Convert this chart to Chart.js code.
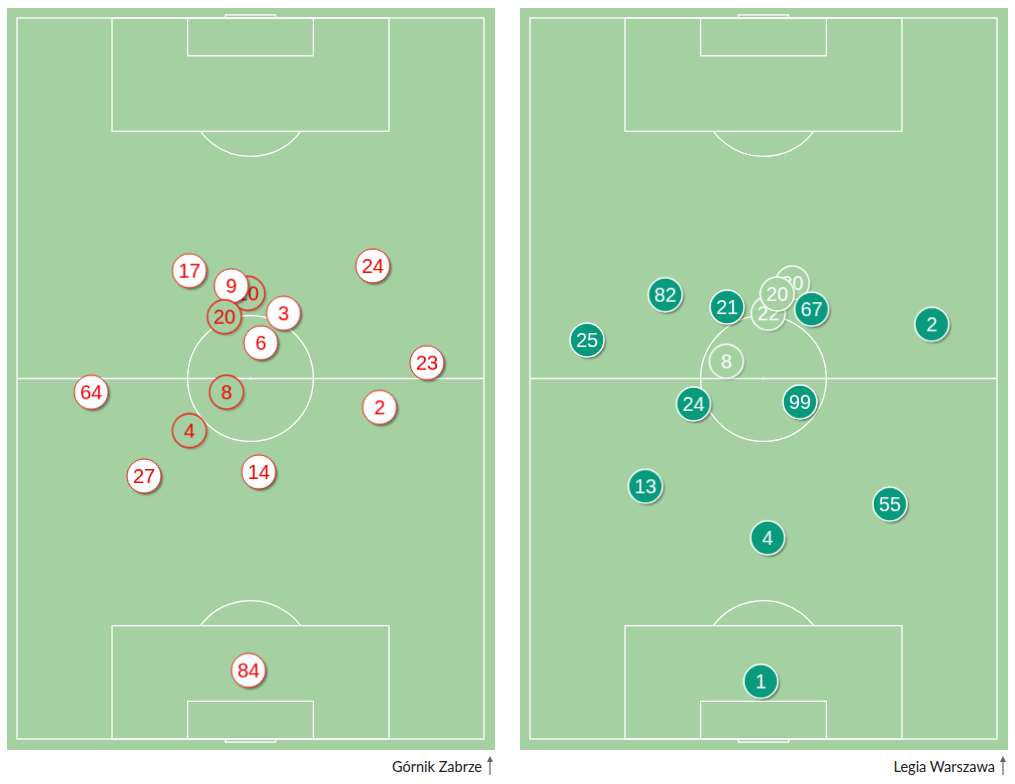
<!DOCTYPE html>
<html>
<head>
<meta charset="utf-8">
<script src="https://cdn.jsdelivr.net/npm/chart.js@4.4.1/dist/chart.umd.min.js"></script>
<style>
  body { margin: 0; background: #fff; width: 1015px; height: 784px; position: relative; overflow: hidden; }
  .pitch { position: absolute; top: 8px; width: 488px; height: 742px; }
  .caption { position: absolute; top: 758px; font: 14.5px Lato, sans-serif; color: #222; white-space: nowrap; }
  .caption svg { position: absolute; top: -3px; }
</style>
</head>
<body>
<div class="pitch" style="left:7px"><canvas id="pitchGornik"></canvas></div>
<div class="pitch" style="left:520px"><canvas id="pitchLegia"></canvas></div>
<div class="caption" style="right:533px">Górnik Zabrze<svg width="12" height="22" style="right:-14px"><line x1="6" y1="4" x2="6" y2="20" stroke="#666" stroke-width="1.2"/><path d="M3 7 L6 1 L9 7 Z" fill="#666"/></svg></div>
<div class="caption" style="right:20px">Legia Warszawa<svg width="12" height="22" style="right:-14px"><line x1="6" y1="4" x2="6" y2="20" stroke="#666" stroke-width="1.2"/><path d="M3 7 L6 1 L9 7 Z" fill="#666"/></svg></div>
<script>
// pozycje w metrach: x = szerokosc boiska (0-68), y = od wlasnej linii bramkowej (0-105)
const gornikNumbers = ['17', '10', '9', '20', '3', '6', '24', '23', '64', '8', '2', '4', '27', '14', '84'];
const gornikX = [25.1, 33.6, 31.2, 30.2, 38.8, 35.5, 51.8, 59.7, 10.8, 30.5, 52.8, 25.1, 18.5, 35.2, 33.7];
const gornikY = [68.2, 64.9, 66.0, 61.5, 62.0, 57.7, 68.9, 54.8, 50.5, 50.5, 48.3, 44.9, 38.3, 38.9, 10.0];
const gornikSub = [false, true, false, true, false, false, false, false, false, true, false, true, false, false, false];

const legiaNumbers = ['82', '21', '30', '22', '20', '67', '2', '25', '8', '24', '99', '13', '55', '4', '1'];
const legiaX = [19.7, 28.7, 38.2, 34.7, 36.0, 41.0, 58.5, 8.3, 28.6, 23.8, 39.3, 16.8, 52.4, 34.6, 33.6];
const legiaY = [64.7, 62.9, 66.4, 62.0, 64.8, 62.6, 60.4, 58.1, 55.0, 48.8, 49.1, 36.8, 34.2, 29.3, 8.4];
const legiaSub = [false, false, true, true, true, false, false, false, true, false, false, false, false, false, false];

const PITCH_W = 68;
const PITCH_L = 105;
const GRASS = '#a4d0a2';
const LINE = '#ffffff';

// rysuje znacznik zawodnika na osobnym canvasie (uzywany jako pointStyle)
function makeMarker(num, sub, team) {
    const c = document.createElement('canvas');
    c.width = 44;
    c.height = 44;
    const g = c.getContext('2d');
    const r = 17;
    const fill = sub ? GRASS : (team === 'gornik' ? '#ffffff' : '#079a7c');
    const edge = team === 'gornik' ? '#f01a14' : '#ffffff';
    const text = team === 'gornik' ? '#f00000' : '#ffffff';

    g.save();
    g.shadowColor = sub ? 'rgba(0,0,0,0.2)' : 'rgba(0,0,0,0.4)';
    g.shadowOffsetX = 2;
    g.shadowOffsetY = 2;
    g.shadowBlur = 2;
    g.beginPath();
    g.arc(22, 22, r, 0, Math.PI * 2);
    g.fillStyle = fill;
    g.fill();
    g.restore();
    g.beginPath();
    g.arc(22, 22, r, 0, Math.PI * 2);
    g.lineWidth = team === 'gornik' ? (sub ? 1.3 : 1) : 1.5;
    g.strokeStyle = edge;
    g.stroke();

    g.fillStyle = text;
    g.font = '20px "Liberation Sans", Arial, sans-serif';
    g.textAlign = 'center';
    g.textBaseline = 'middle';
    g.fillText(num, 22, 23);
    return c;
}

// linie boiska rysowane przez skale wykresu
const pitchPlugin = {
    id: 'pitch',
    beforeDraw(chart) {
        const ctx = chart.ctx;
        ctx.save();
        ctx.fillStyle = GRASS;
        ctx.fillRect(0, 0, chart.width, chart.height);
        ctx.restore();
    },
    beforeDatasetsDraw(chart) {
        const ctx = chart.ctx;
        const sx = chart.scales.x;
        const sy = chart.scales.y;
        const px = v => sx.getPixelForValue(v);
        const py = v => sy.getPixelForValue(v);
        const m = Math.abs(px(1) - px(0));
        const cx = PITCH_W / 2;

        const rect = (x0, y0, x1, y1) => {
            ctx.strokeRect(px(x0), py(y1), px(x1) - px(x0), py(y0) - py(y1));
        };

        ctx.save();
        ctx.strokeStyle = LINE;
        ctx.lineWidth = 1.3;

        rect(0, 0, PITCH_W, PITCH_L);
        // linia srodkowa + kolo
        ctx.beginPath();
        ctx.moveTo(px(0), py(PITCH_L / 2));
        ctx.lineTo(px(PITCH_W), py(PITCH_L / 2));
        ctx.stroke();
        ctx.beginPath();
        ctx.arc(px(cx), py(PITCH_L / 2), 9.15 * m, 0, Math.PI * 2);
        ctx.stroke();
        ctx.beginPath();
        ctx.fillStyle = LINE;
        ctx.arc(px(cx), py(PITCH_L / 2), 1.2, 0, Math.PI * 2);
        ctx.fill();

        // pola karne, bramkowe, bramki, luki
        const theta = Math.acos(5.5 / 9.15);
        [0, PITCH_L].forEach(end => {
            const dir = end === 0 ? 1 : -1;
            rect(cx - 20.16, Math.min(end, end + dir * 16.5), cx + 20.16, Math.max(end, end + dir * 16.5));
            rect(cx - 9.16, Math.min(end, end + dir * 5.5), cx + 9.16, Math.max(end, end + dir * 5.5));
            rect(cx - 3.66, Math.min(end, end - dir * 0.45), cx + 3.66, Math.max(end, end - dir * 0.45));
            ctx.beginPath();
            const spotY = py(end + dir * 11);
            if (dir === 1) {
                ctx.arc(px(cx), spotY, 9.15 * m, -Math.PI / 2 - theta, -Math.PI / 2 + theta);
            } else {
                ctx.arc(px(cx), spotY, 9.15 * m, Math.PI / 2 - theta, Math.PI / 2 + theta);
            }
            ctx.stroke();
        });
        ctx.restore();
    }
};

function initPitch(canvasId, team, numbers, xs, ys, subs) {
    const data = numbers.map((n, i) => ({ x: xs[i], y: ys[i] }));
    const styles = numbers.map((n, i) => makeMarker(n, subs[i], team));

    return new Chart(document.getElementById(canvasId), {
        type: 'scatter',
        data: {
            datasets: [{
                data: data,
                pointStyle: styles,
                pointRadius: 17,
                pointHoverRadius: 17,
                clip: false
            }]
        },
        options: {
            responsive: true,
            maintainAspectRatio: false,
            animation: false,
            layout: { autoPadding: false, padding: { left: 10, right: 11, top: 10, bottom: 11 } },
            scales: {
                x: { type: 'linear', min: 0, max: PITCH_W, display: false },
                y: { type: 'linear', min: 0, max: PITCH_L, display: false }
            },
            plugins: {
                legend: { display: false },
                tooltip: { enabled: false }
            },
            events: []
        },
        plugins: [pitchPlugin]
    });
}

initPitch('pitchGornik', 'gornik', gornikNumbers, gornikX, gornikY, gornikSub);
initPitch('pitchLegia', 'legia', legiaNumbers, legiaX, legiaY, legiaSub);
</script>
</body>
</html>
